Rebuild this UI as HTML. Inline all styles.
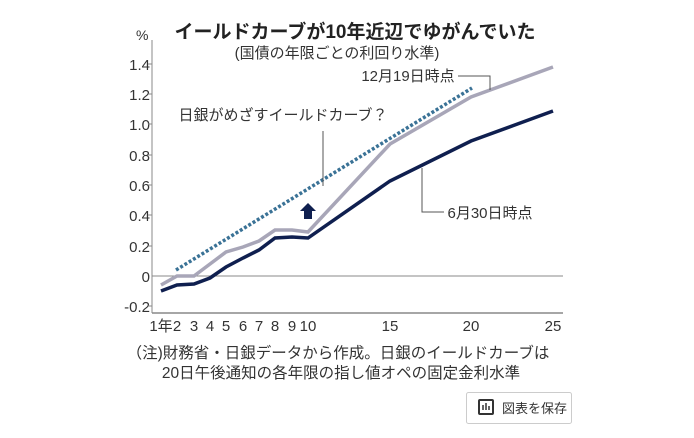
<!DOCTYPE html>
<html><head><meta charset="utf-8"><style>
body{margin:0;background:#fff;width:694px;height:438px;overflow:hidden;font-family:"Liberation Sans","Noto Sans CJK JP",sans-serif}
</style></head><body>
<svg width="694" height="438" xmlns="http://www.w3.org/2000/svg" style="position:absolute;left:0;top:0">
<g font-family="Liberation Sans,Noto Sans CJK JP,sans-serif">
<text x="136" y="40" font-size="14" fill="#333">%</text>
<text x="355" y="38" font-size="19" font-weight="bold" text-anchor="middle" fill="#222">イールドカーブが10年近辺でゆがんでいた</text>
<text x="337" y="58" font-size="15" text-anchor="middle" fill="#333">(国債の年限ごとの利回り水準)</text>
<g font-size="15" fill="#333" text-anchor="end">
<text x="150" y="70">1.4</text><text x="150" y="100">1.2</text><text x="150" y="130">1.0</text>
<text x="150" y="161">0.8</text><text x="150" y="191">0.6</text><text x="150" y="221">0.4</text>
<text x="150" y="252">0.2</text><text x="150" y="282">0</text><text x="150" y="312">-0.2</text>
</g>
<line x1="152" y1="40" x2="152" y2="313" stroke="#888"/>
<line x1="152" y1="313" x2="563" y2="313" stroke="#888" stroke-width="1.5"/>
<line x1="152" y1="276" x2="563" y2="276" stroke="#888"/>
<g stroke="#888">
<line x1="148" y1="64" x2="152" y2="64"/><line x1="148" y1="94" x2="152" y2="94"/><line x1="148" y1="124" x2="152" y2="124"/><line x1="148" y1="155" x2="152" y2="155"/><line x1="148" y1="185" x2="152" y2="185"/><line x1="148" y1="215" x2="152" y2="215"/><line x1="148" y1="246" x2="152" y2="246"/><line x1="148" y1="306" x2="152" y2="306"/>
</g>
<g font-size="15" fill="#333" text-anchor="middle">
<text x="161" y="331">1年</text><text x="177" y="331">2</text><text x="194" y="331">3</text><text x="210" y="331">4</text><text x="226" y="331">5</text><text x="243" y="331">6</text><text x="259" y="331">7</text><text x="275" y="331">8</text><text x="292" y="331">9</text><text x="308" y="331">10</text><text x="390" y="331">15</text><text x="471" y="331">20</text><text x="553" y="331">25</text>
</g>
<polyline fill="none" stroke="#a8a6b8" stroke-width="3.5" points="161,285 177,276 194,276 210,264 226,252 243,247 259,241 275,230 292,230 308,232 390,144 471,97 553,67"/>
<polyline fill="none" stroke="#0f1f4f" stroke-width="3.5" points="161,291 177,285 194,284 210,278 226,267 243,258 259,250 275,238 292,237 308,238 390,181 471,141 553,111"/>
<line x1="176" y1="270" x2="472" y2="88" stroke="#3a7296" stroke-width="3.5" stroke-dasharray="3,2"/>
<path d="M304,219 h8 v-8 h4 l-8,-8 l-8,8 h4z" fill="#0f1f4f"/>
<text x="408" y="81" font-size="15" fill="#333" text-anchor="middle">12月19日時点</text>
<polyline fill="none" stroke="#555" points="458,76 490,76 490,90"/>
<text x="283" y="120" font-size="15" fill="#333" text-anchor="middle">日銀がめざすイールドカーブ？</text>
<line x1="323" y1="131" x2="323" y2="186" stroke="#555"/>
<polyline fill="none" stroke="#555" points="422,168 422,212 444,212"/>
<text x="490" y="218" font-size="15" fill="#333" text-anchor="middle">6月30日時点</text>
<text x="338" y="358" font-size="15.5" fill="#333" text-anchor="middle">（注)財務省・日銀データから作成。日銀のイールドカーブは</text>
<text x="341" y="378" font-size="15.5" fill="#333" text-anchor="middle">20日午後通知の各年限の指し値オペの固定金利水準</text>
</g>
<rect x="466.5" y="392.5" width="105" height="31" fill="#fff" stroke="#ccc" rx="2"/>
<rect x="479" y="400" width="14" height="14" fill="none" stroke="#333" stroke-width="2" rx="1"/>
<line x1="483" y1="410" x2="483" y2="405" stroke="#333" stroke-width="1.5"/><line x1="486" y1="410" x2="486" y2="403" stroke="#333" stroke-width="1.5"/><line x1="489" y1="410" x2="489" y2="406" stroke="#333" stroke-width="1.5"/>
<text x="502" y="413" font-size="13" fill="#333" font-family="Liberation Sans,Noto Sans CJK JP,sans-serif">図表を保存</text>
</svg>
</body></html>
